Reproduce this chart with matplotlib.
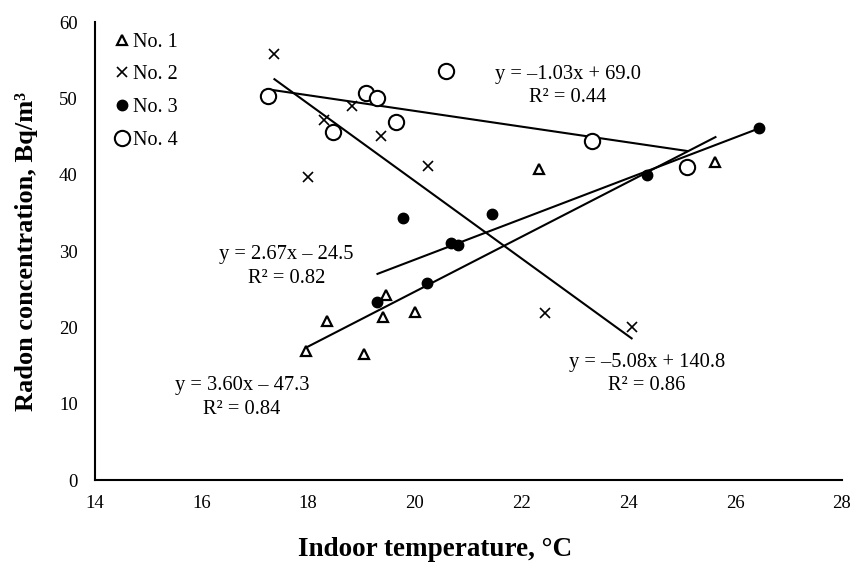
import matplotlib
matplotlib.use("Agg")
import matplotlib.pyplot as plt
import numpy as np

plt.rcParams['font.family'] = ['Liberation Serif', 'DejaVu Serif']

# Data
no1_x = [17.97, 18.36, 19.05, 19.41, 19.46, 20.00, 22.32, 25.63]
no1_y = [16.9, 20.9, 16.5, 21.4, 24.2, 22.0, 40.8, 41.7]

no2_x = [17.37, 18.00, 18.30, 18.82, 19.37, 20.25, 22.44, 24.06]
no2_y = [55.9, 39.8, 47.2, 49.0, 45.1, 41.2, 21.9, 20.1]

no3_x = [19.30, 19.78, 20.22, 20.68, 20.80, 21.45, 24.34, 26.45]
no3_y = [23.3, 34.4, 25.8, 31.1, 30.8, 34.9, 40.0, 46.1]

no4_x = [17.25, 18.47, 19.08, 19.30, 19.64, 20.58, 23.31, 25.10]
no4_y = [50.3, 45.6, 50.8, 50.1, 46.9, 53.7, 44.5, 41.1]

labels = ["No. 1", "No. 2", "No. 3", "No. 4"]
slopes = [3.60, -5.08, 2.67, -1.03]
intercepts = [-47.3, 140.8, -24.5, 69.0]
eq_texts = ["y = 3.60x \u2013 47.3", "y = \u20135.08x + 140.8",
            "y = 2.67x \u2013 24.5", "y = \u20131.03x + 69.0"]
r2_texts = ["R\u00b2 = 0.84", "R\u00b2 = 0.86", "R\u00b2 = 0.82", "R\u00b2 = 0.44"]

x_ticks = [14, 16, 18, 20, 22, 24, 26, 28]
y_ticks = [0, 10, 20, 30, 40, 50, 60]

fig = plt.figure(figsize=(8.53, 5.62), dpi=100)
ax = fig.add_axes([0.1108, 0.1459, 0.8763, 0.8141])

xs = [no1_x, no2_x, no3_x, no4_x]
ys = [no1_y, no2_y, no3_y, no4_y]
styles = [
    dict(marker='^', ms=7, mfc='white', mec='black', mew=1.6),
    dict(marker='x', ms=6.5, mfc='black', mec='black', mew=1.2),
    dict(marker='o', ms=7.5, mfc='black', mec='black', mew=1.0),
    dict(marker='o', ms=11, mfc='white', mec='black', mew=1.5),
]

for x, y, lab, st in zip(xs, ys, labels, styles):
    ax.plot(x, y, linestyle='none', label=lab, zorder=3, **st)

for x, m, b in zip(xs, slopes, intercepts):
    xl = np.array([min(x), max(x)])
    ax.plot(xl, m * xl + b, color='black', lw=1.5, zorder=2)

# equation labels (positions in data coordinates)
eq_pos = [(16.76, 12.34, 9.19), (24.35, 15.36, 12.34),
          (17.60, 29.54, 26.39), (22.87, 53.2, 50.15)]
for (px, py1, py2), e, r in zip(eq_pos, eq_texts, r2_texts):
    ax.text(px, py1, e, ha='center', va='center', fontsize=14.8)
    ax.text(px, py2, r, ha='center', va='center', fontsize=14.8)

ax.set_xlim(14, 28)
ax.set_ylim(0, 60)
ax.set_xticks(x_ticks)
ax.set_yticks(y_ticks)
ax.tick_params(length=0, labelsize=13.5)
ax.tick_params(axis='x', pad=11)
ax.tick_params(axis='y', pad=12)
for s in ['top', 'right']:
    ax.spines[s].set_visible(False)
for s in ['left', 'bottom']:
    ax.spines[s].set_linewidth(1.5)

ax.set_xlabel("Indoor temperature, \u00b0C", fontsize=19.5, fontweight='bold', labelpad=18)
ax.xaxis.label.set_x(0.4555)
ax.set_ylabel("Radon concentration, Bq/m\u00b3", fontsize=19, fontweight='bold', labelpad=15)

leg = ax.legend(loc='upper left', frameon=False, fontsize=14.5, handletextpad=-0.2,
                handlelength=1.5, labelspacing=0.68, borderaxespad=0.1,
                bbox_to_anchor=(0.003, 1.0))

fig.savefig("out.png", dpi=100)
